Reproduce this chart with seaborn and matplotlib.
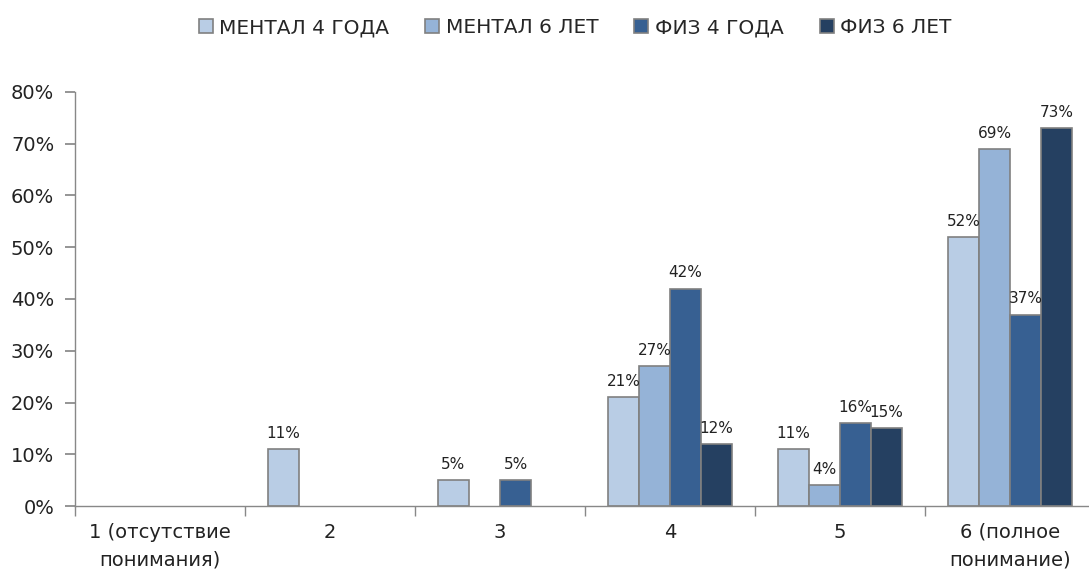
import matplotlib
matplotlib.use("Agg")
import matplotlib.pyplot as plt
import seaborn as sns
import pandas as pd
import numpy as np

categories = ["1 (отсутствие\nпонимания)", "2", "3", "4", "5", "6 (полное\nпонимание)"]
series_names = ["МЕНТАЛ 4 ГОДА", "МЕНТАЛ 6 ЛЕТ", "ФИЗ 4 ГОДА", "ФИЗ 6 ЛЕТ"]
mental4 = [0, 11, 5, 21, 11, 52]
mental6 = [0, 0, 0, 27, 4, 69]
phys4 = [0, 0, 5, 42, 16, 37]
phys6 = [0, 0, 0, 12, 15, 73]
colors = ["#B9CDE5", "#95B3D7", "#376092", "#254061"]
yticks = [0, 10, 20, 30, 40, 50, 60, 70, 80]

sns.set_theme(style="white")
plt.rcParams['font.family'] = ['DejaVu Sans']

rows = []
for s, vals in zip(series_names, [mental4, mental6, phys4, phys6]):
    for c, v in zip(categories, vals):
        rows.append({"cat": c, "series": s, "val": v})
df = pd.DataFrame(rows)

fig = plt.figure(figsize=(10.89, 5.81), dpi=100)
ax = fig.add_axes([75/1089, 75/581, 1020/1089, 414/581])
sns.barplot(data=df, x="cat", y="val", hue="series", order=categories,
            hue_order=series_names, palette=colors, width=0.73,
            edgecolor="#808080", linewidth=1.2, ax=ax, saturation=1)

for cont, vals in zip(ax.containers, [mental4, mental6, phys4, phys6]):
    for p, v in zip(cont.patches, vals):
        if v == 0:
            p.set_visible(False)
    labels = [f"{v}%" if v > 0 else "" for v in vals]
    ax.bar_label(cont, labels=labels, padding=6, fontsize=11, color="#222222")

ax.set_xlim(-0.5, 5.5)
ax.set_ylim(0, 80)
ax.set_yticks(yticks)
ax.set_yticklabels([f"{t}%" for t in yticks], fontsize=14, color="#222222")
ax.set_xticks(range(6))
ax.set_xticklabels(categories, fontsize=14, color="#222222", linespacing=1.6)
ax.tick_params(axis="x", length=0, pad=12)
ax.set_xticks(np.arange(-0.5, 5.6, 1), minor=True)
ax.tick_params(axis="x", which="minor", length=7, color="#888888", direction="out", bottom=True)
ax.tick_params(axis="y", length=7, color="#888888", direction="out", left=True, pad=8)
ax.set_xlabel("")
ax.set_ylabel("")
for sp in ["top", "right"]:
    ax.spines[sp].set_visible(False)
for sp in ["left", "bottom"]:
    ax.spines[sp].set_color("#888888")
    ax.spines[sp].set_linewidth(1)

ax.legend(loc="upper center", ncol=4, frameon=False,
          fontsize=14.5, handlelength=0.7, handleheight=0.7, handletextpad=0.3, columnspacing=1.8,
          bbox_to_anchor=(575/1089, 1.0), bbox_transform=fig.transFigure)

fig.savefig("out.png", dpi=100)
